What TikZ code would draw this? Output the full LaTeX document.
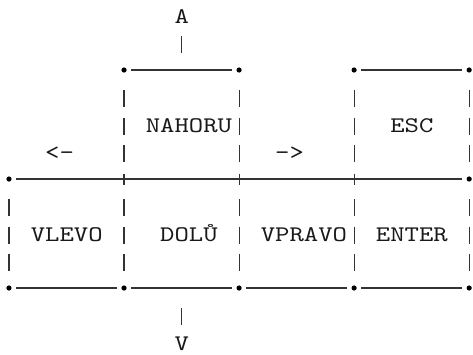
\documentclass[tikz,border=0pt]{standalone}
\usepackage{fontspec}
\newfontfamily\asciimono{lmmono10-regular.otf}[FakeStretch=1.228]
\begin{document}
\begin{tikzpicture}[
  hline/.style={draw=black!80, line width=1.2pt, shorten <=7.19pt, shorten >=7.19pt},
  vbar/.style={draw=black!80, line width=1.1pt},
  lbl/.style={anchor=base west, inner sep=0pt, font=\asciimono\fontsize{22.3pt}{27pt}\selectfont, text=black!90}
]
\useasboundingbox (0,0) rectangle (473pt,-354pt);
\begin{scope}[x={(14.38pt,0pt)}, y={(0pt,-27.25pt)}, shift={(8.99pt,-23pt)}]
  % corner / junction points
  \foreach \c in {8,16,24,32} \coordinate (t\c) at (\c,1.725);
  \foreach \c in {0,8,16,24,32} \coordinate (m\c) at (\c,5.725);
  \foreach \c in {0,8,16,24,32} \coordinate (b\c) at (\c,9.725);
  % horizontal lines
  \draw[hline] (t8) -- (t16);
  \draw[hline] (t24) -- (t32);
  \draw[hline] (m0) -- (m32);
  \draw[hline] (b0) -- (b8);
  \draw[hline] (b8) -- (b16);
  \draw[hline] (b16) -- (b24);
  \draw[hline] (b24) -- (b32);
  % bullets
  \foreach \p in {t8,t16,t24,t32,m0,m32,b0,b8,b16,b24,b32} \fill[black] (\p) circle (2.6pt);
  % plus crossings
  \foreach \p in {m8,m16,m24} \draw[vbar] ([yshift=5.5pt]\p) -- ([yshift=-5.5pt]\p);
  % vertical bars
  \foreach \c in {8,16,24,32} \foreach \r in {3,4,5} \draw[vbar] (\c,\r-0.532) -- (\c,\r+0.092);
  \foreach \c in {0,8,16,24,32} \foreach \r in {7,8,9} \draw[vbar] (\c,\r-0.532) -- (\c,\r+0.092);
  \draw[vbar] (12,1-0.532) -- (12,1+0.092);
  \draw[vbar] (12,11-0.532) -- (12,11+0.092);
  % labels
  \node[lbl] (up) at (11.5,0) {A};
  \node[lbl] (nahoru) at (9.5,4) {NAHORU};
  \node[lbl] (esc) at (26.5,4) {ESC};
  \node[lbl] (leftarrow) at (2.5,5) {<-};
  \node[lbl] (rightarrow) at (18.5,5) {->};
  \node[lbl] (vlevo) at (1.5,8) {VLEVO};
  \node[lbl] (dolu) at (10.5,8) {DOLŮ};
  \node[lbl] (vpravo) at (17.5,8) {VPRAVO};
  \node[lbl] (enter) at (25.5,8) {ENTER};
  \node[lbl] (down) at (11.5,12) {V};
\end{scope}
\end{tikzpicture}
\end{document}
